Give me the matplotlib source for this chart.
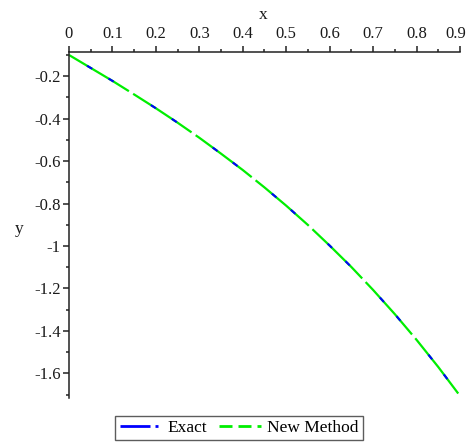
import matplotlib
matplotlib.use("Agg")
import matplotlib.pyplot as plt
from matplotlib.lines import Line2D
from matplotlib.ticker import MultipleLocator
from matplotlib.transforms import ScaledTranslation

plt.rcParams['font.family'] = ['Liberation Serif', 'DejaVu Serif']
plt.rcParams['lines.scale_dashes'] = False

x_vals = [0.0, 0.05, 0.1, 0.15, 0.2, 0.25, 0.3, 0.35, 0.4, 0.45,
          0.5, 0.55, 0.6, 0.65, 0.7, 0.75, 0.8, 0.85, 0.9]
y_exact = [-0.100, -0.161, -0.222, -0.286, -0.351, -0.419, -0.490, -0.565, -0.642, -0.724,
           -0.810, -0.901, -0.998, -1.099, -1.207, -1.321, -1.442, -1.570, -1.706]
y_new = [-0.100, -0.161, -0.222, -0.286, -0.351, -0.419, -0.490, -0.565, -0.642, -0.724,
         -0.810, -0.901, -0.998, -1.099, -1.207, -1.321, -1.442, -1.570, -1.706]
x_ticks = [0, 0.1, 0.2, 0.3, 0.4, 0.5, 0.6, 0.7, 0.8, 0.9]
x_tick_labels = ['0', '0.1', '0.2', '0.3', '0.4', '0.5', '0.6', '0.7', '0.8', '0.9']
y_ticks = [-0.2, -0.4, -0.6, -0.8, -1.0, -1.2, -1.4, -1.6]
y_tick_labels = ['-0.2', '-0.4', '-0.6', '-0.8', '-1', '-1.2', '-1.4', '-1.6']

fig = plt.figure(figsize=(4.69, 4.43), dpi=100)
ax = fig.add_axes([0.1471, 0.1016, 0.8337, 0.7810])

px = 0.72
ax.plot(x_vals, y_new, color='#00ee00', lw=1.6,
        linestyle=(0, (70 * px, 5 * px)), zorder=2)
ax.plot(x_vals, y_exact, color='#0000ff', lw=1.5,
        linestyle=(54 * px, (6 * px, 19 * px, 6 * px, 44 * px)), zorder=3)

ax.set_xlim(0, 0.9)
ax.set_ylim(-1.716, -0.086)

for s in ['bottom', 'right']:
    ax.spines[s].set_visible(False)
for s in ['top', 'left']:
    ax.spines[s].set_color('#222222')
    ax.spines[s].set_linewidth(1.1)

ax.xaxis.set_ticks_position('top')
ax.xaxis.set_label_position('top')
ax.set_xticks(x_ticks)
ax.set_xticklabels(x_tick_labels)
ax.xaxis.set_minor_locator(MultipleLocator(0.05))
ax.set_yticks(y_ticks)
ax.set_yticklabels(y_tick_labels)
ax.yaxis.set_minor_locator(MultipleLocator(0.1))

ax.tick_params(axis='both', which='major', direction='out', length=4, width=1.1,
               color='#222222', labelsize=12, labelcolor='#1a1a1a')
ax.tick_params(axis='both', which='minor', direction='out', length=2.5, width=1.1,
               color='#222222')
ax.tick_params(axis='x', pad=3)
ax.tick_params(axis='y', pad=2)

# nudge the last x tick label so it stays inside the figure
last = ax.xaxis.get_major_ticks()[-1]
last.label2.set_transform(last.label2.get_transform()
                          + ScaledTranslation(-4 / 100, 0, fig.dpi_scale_trans))

fig.text(263 / 469, 1 - 15 / 443, 'x', ha='center', va='center', fontsize=12.5, color='#1a1a1a')
fig.text(19 / 469, 1 - 229 / 443, 'y', ha='center', va='center', fontsize=12.5, color='#1a1a1a')

h1 = Line2D([], [], color='#0000ff', lw=2, linestyle=(0, (30 * px, 5 * px, 3 * px, 5 * px)))
h2 = Line2D([], [], color='#00ee00', lw=2, linestyle=(0, (13 * px, 6 * px)))
leg = fig.legend([h1, h2], ['Exact', 'New Method'], loc='center',
                 bbox_to_anchor=(239 / 469, 1 - 428 / 443), ncol=2, fontsize=12.5,
                 frameon=True, fancybox=False, edgecolor='#333333',
                 handlelength=2.4, handletextpad=0.35, columnspacing=0.7,
                 borderpad=0.25, borderaxespad=0)
leg.get_frame().set_linewidth(1.0)

fig.savefig('out.png', dpi=100)
